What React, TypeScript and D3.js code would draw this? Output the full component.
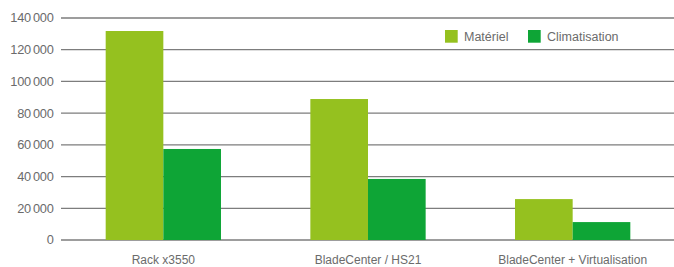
import React from "react";
import * as d3 from "d3";

const categories = ["Rack x3550", "BladeCenter / HS21", "BladeCenter + Virtualisation"];
const seriesNames = ["Matériel", "Climatisation"];
const materiel = [131800, 88900, 25800];
const climatisation = [57400, 38500, 11300];
const yTicks = [0, 20000, 40000, 60000, 80000, 100000, 120000, 140000];
const colors = ["#95c11f", "#0ea536"];

const W = 674;
const H = 267;

export default function App() {
  const x = d3.scaleBand<string>().domain(categories).range([61, 675]).padding(0);
  const xi = d3
    .scaleBand<string>()
    .domain(seriesNames)
    .range([0, x.step()])
    .paddingInner(0)
    .paddingOuter(0.775);
  const y = d3.scaleLinear().domain([0, 140000]).range([240, 18]);
  const values = [materiel, climatisation];
  const fmt = (v: number) => d3.format(",")(v).replace(/,/g, "\u2009");
  const font = "'Liberation Sans', Arial, Helvetica, sans-serif";

  return (
    <svg width={W} height={H} style={{ position: "absolute", left: 0, top: 0, background: "#fff" }}>
      {yTicks.map((t) => (
        <g key={t}>
          <line x1={61} x2={674} y1={y(t)} y2={y(t)} stroke="#7d7d7d" strokeWidth={1.3} />
          <text x={53.5} y={y(t) + 4.4} textAnchor="end" fontFamily={font} fontSize={12.8} fill="#6b6b6b" letterSpacing={-0.3}>
            {fmt(t)}
          </text>
        </g>
      ))}
      {categories.map((c, ci) =>
        seriesNames.map((s, si) => (
          <rect
            key={c + s}
            x={(x(c) as number) + (xi(s) as number)}
            width={xi.bandwidth()}
            y={y(values[si][ci])}
            height={y(0) - y(values[si][ci])}
            fill={colors[si]}
          />
        ))
      )}
      {categories.map((c) => (
        <text
          key={c}
          x={(x(c) as number) + x.bandwidth() / 2}
          y={264}
          textAnchor="middle"
          fontFamily={font}
          fontSize={12}
          fill="#6b6b6b"
        >
          {c}
        </text>
      ))}
      {seriesNames.map((s, i) => {
        const lx = [445, 528][i];
        return (
          <g key={s}>
            <rect x={lx} y={30} width={12.7} height={12.7} fill={colors[i]} />
            <text x={lx + 19} y={40.6} fontFamily={font} fontSize={12.5} fill="#6b6b6b">
              {s}
            </text>
          </g>
        );
      })}
    </svg>
  );
}
